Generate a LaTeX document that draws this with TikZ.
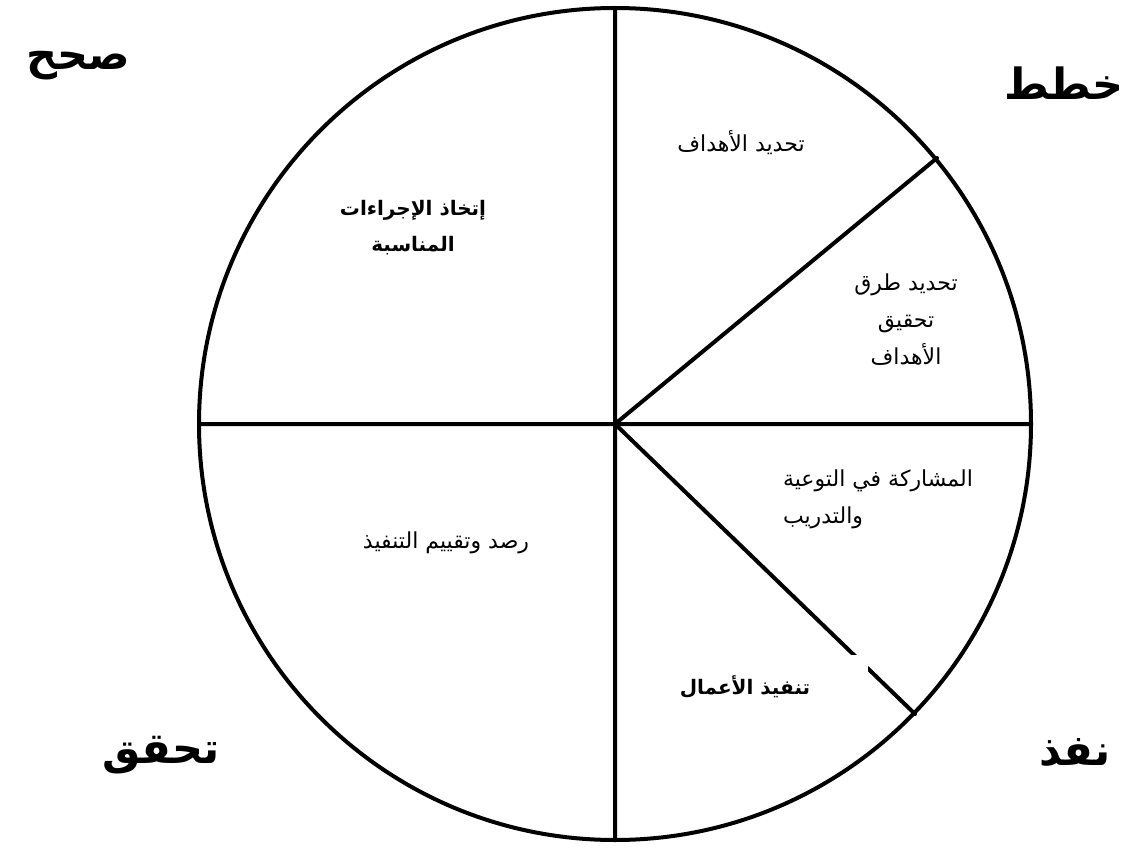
\documentclass[tikz,border=0pt]{standalone}
\usepackage{fontspec}
\newfontfamily\arabicfont[Script=Arabic]{DejaVu Sans}
\TeXXeTstate=1
\begin{document}
\begin{tikzpicture}[x=1pt,y=-1pt,line width=4pt,line join=round,line cap=round,
  font=\arabicfont\fontsize{22}{37}\selectfont,
  lbl/.style={align=center,inner sep=0pt},
  bold/.style={font=\arabicfont\bfseries\fontsize{20}{36}\selectfont},
  big/.style={inner sep=0pt,anchor=base,font=\arabicfont\bfseries\fontsize{43}{43}\selectfont}]
\useasboundingbox (0,0) rectangle (1125,848);
\coordinate (O) at (615,424);
\coordinate (T) at (615,8);
\coordinate (B) at (615,840);
\coordinate (L) at (199,424);
\coordinate (R) at (1031,424);
\coordinate (P) at (937,158);
\coordinate (Q) at (915,714);
\draw (O) circle (416pt);
\draw (T)--(B) (L)--(R) (O)--(P) (O)--(Q);
\node[lbl] (goals) at (741,143) {\beginR تحديد الأهداف\endR};
\node[lbl] (ways) at (906,320) {\beginR تحديد طرق\endR\\\beginR تحقيق\endR\\\beginR الأهداف\endR};
\node[lbl,align=left] (aware) at (878,499) {\beginR المشاركة في التوعية\endR\\\beginR والتدريب\endR};
\node[lbl,bold,fill=white,minimum width=246,minimum height=65] (works) at (745,687) {\beginR تنفيذ الأعمال\endR};
\node[lbl,bold] (action) at (413,228) {\beginR إتخاذ الإجراءات\endR\\\beginR المناسبة\endR};
\node[lbl] (monitor) at (446,543) {\beginR رصد وتقييم التنفيذ\endR};
\node[big] (fix) at (78,70) {\beginR صحح\endR};
\node[big] (plan) at (1064,100) {\beginR خطط\endR};
\node[big] (check) at (161,763) {\beginR تحقق\endR};
\node[big] (do) at (1075,765) {\beginR نفذ\endR};
\end{tikzpicture}
\end{document}
